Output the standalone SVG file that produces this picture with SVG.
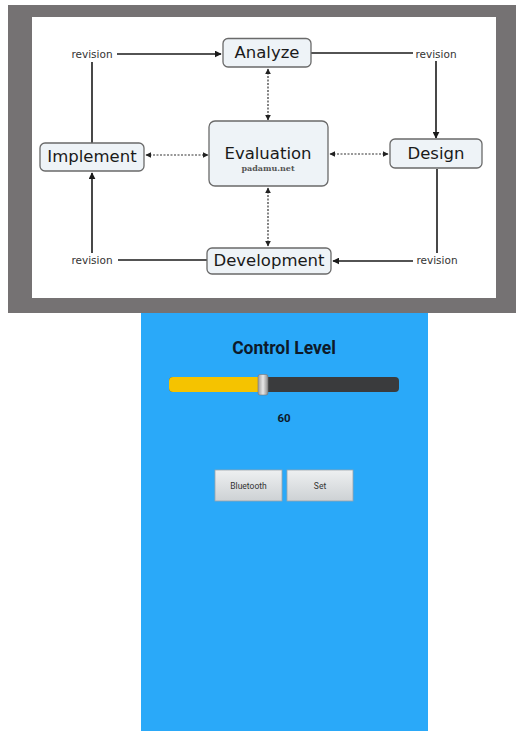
<svg xmlns="http://www.w3.org/2000/svg" width="516" height="731" viewBox="0 0 516 731">
  <style>
    .node rect { fill: #eef3f7; stroke: #6a6a6a; stroke-width: 1.3; }
    .label { font-family: "DejaVu Sans", "Liberation Sans", sans-serif; fill: #1a1a1a; text-anchor: middle; }
    .rev { font-family: "DejaVu Sans", "Liberation Sans", sans-serif; font-size: 10.5px; fill: #333; text-anchor: middle; }
    .solid { stroke: #1a1a1a; stroke-width: 1.6; fill: none; }
    .dash { stroke: #333; stroke-width: 1.2; fill: none; stroke-dasharray: 2 1.5; }
    .btn rect { fill: url(#btnGrad); stroke: #9aa4ab; stroke-width: 0.8; }
    .btn text { font-family: Roboto, "Liberation Sans", sans-serif; font-size: 8.5px; fill: #333; text-anchor: middle; }
  </style>
  <defs>
    <marker id="arrow" viewBox="0 0 10 10" refX="9" refY="5" markerWidth="7" markerHeight="7" orient="auto-start-reverse" markerUnits="userSpaceOnUse">
      <path d="M0,0 L10,5 L0,10 z" fill="#1a1a1a"/>
    </marker>
    <marker id="arrowSmall" viewBox="0 0 10 10" refX="9" refY="5" markerWidth="6" markerHeight="6" orient="auto-start-reverse" markerUnits="userSpaceOnUse">
      <path d="M0,0 L10,5 L0,10 z" fill="#222"/>
    </marker>
    <linearGradient id="btnGrad" x1="0" y1="0" x2="0" y2="1">
      <stop offset="0" stop-color="#eef0f1"/>
      <stop offset="1" stop-color="#cdd1d4"/>
    </linearGradient>
    <linearGradient id="thumbGrad" x1="0" y1="0" x2="1" y2="0">
      <stop offset="0" stop-color="#9a9a9a"/>
      <stop offset="0.5" stop-color="#e8e8e8"/>
      <stop offset="1" stop-color="#8a8a8a"/>
    </linearGradient>
  </defs>

  <!-- page background -->
  <rect x="0" y="0" width="516" height="731" fill="#ffffff"/>

  <!-- photo frame around the cycle chart -->
  <rect x="8" y="5" width="508" height="308" fill="#757273"/>
  <rect x="32" y="17" width="464" height="281" fill="#ffffff"/>

  <!-- connectors -->
  <g id="connectors">
    <!-- solid revision loops -->
    <polyline class="solid" points="92,143 92,62"/>
    <line class="solid" x1="117" y1="54" x2="221" y2="54" marker-end="url(#arrow)"/>
    <line class="solid" x1="311" y1="53" x2="413" y2="53"/>
    <line class="solid" x1="436" y1="61" x2="436" y2="138" marker-end="url(#arrow)"/>
    <line class="solid" x1="437" y1="169" x2="437" y2="253"/>
    <line class="solid" x1="413" y1="261" x2="333" y2="261" marker-end="url(#arrow)"/>
    <line class="solid" x1="207" y1="260" x2="118" y2="260"/>
    <line class="solid" x1="92" y1="253" x2="92" y2="173" marker-end="url(#arrow)"/>
    <!-- dashed evaluation links -->
    <line class="dash" x1="268" y1="69" x2="268" y2="120" marker-start="url(#arrowSmall)" marker-end="url(#arrowSmall)"/>
    <line class="dash" x1="268" y1="188" x2="268" y2="246" marker-start="url(#arrowSmall)" marker-end="url(#arrowSmall)"/>
    <line class="dash" x1="146" y1="155" x2="208" y2="155" marker-start="url(#arrowSmall)" marker-end="url(#arrowSmall)"/>
    <line class="dash" x1="330" y1="154" x2="388" y2="154" marker-start="url(#arrowSmall)" marker-end="url(#arrowSmall)"/>
  </g>

  <!-- revision labels -->
  <text class="rev" x="92" y="58">revision</text>
  <text class="rev" x="436" y="58">revision</text>
  <text class="rev" x="92" y="264">revision</text>
  <text class="rev" x="437" y="264">revision</text>

  <!-- nodes -->
  <g id="analyze" class="node">
    <rect x="223" y="38.5" width="88" height="28.5" rx="5"/>
    <text class="label" x="267" y="58" font-size="16.5">Analyze</text>
  </g>
  <g id="evaluation" class="node">
    <rect x="209" y="121" width="119" height="65" rx="6"/>
    <text class="label" x="268" y="159" font-size="16.5">Evaluation</text>
    <text x="268" y="171" font-family="'DejaVu Serif', 'Liberation Serif', serif" font-weight="bold" font-size="8" fill="#555" text-anchor="middle">padamu.net</text>
  </g>
  <g id="implement" class="node">
    <rect x="40" y="143" width="104" height="28" rx="5"/>
    <text class="label" x="92" y="161.5" font-size="16.5">Implement</text>
  </g>
  <g id="design" class="node">
    <rect x="390" y="139" width="92" height="29" rx="5"/>
    <text class="label" x="436" y="159" font-size="16.5">Design</text>
  </g>
  <g id="development" class="node">
    <rect x="207" y="248" width="124" height="26" rx="5"/>
    <text class="label" x="269" y="266" font-size="16.5">Development</text>
  </g>

  <!-- phone control screen -->
  <g id="control-screen">
    <rect x="141" y="313" width="287" height="418" fill="#2aa9f9"/>
    <text x="284" y="354" font-family="Roboto, 'Liberation Sans', sans-serif" font-weight="bold" font-size="17.5" fill="#0d1a2a" text-anchor="middle">Control Level</text>

    <!-- slider -->
    <rect x="169" y="377" width="230" height="15" rx="4" fill="#3a3b3d"/>
    <rect x="169" y="377" width="93" height="15" rx="4" fill="#f5c300"/>
    <rect x="258" y="374.5" width="10" height="20.5" rx="2" fill="url(#thumbGrad)" stroke="#777" stroke-width="0.6"/>

    <text x="284" y="421.5" font-family="Roboto, 'Liberation Sans', sans-serif" font-weight="bold" font-size="11.5" fill="#0d1a2a" text-anchor="middle">60</text>

    <g id="btn-bluetooth" class="btn">
      <rect x="215" y="470" width="67" height="31"/>
      <text x="248.5" y="489">Bluetooth</text>
    </g>
    <g id="btn-set" class="btn">
      <rect x="287" y="470" width="66" height="31"/>
      <text x="320" y="489">Set</text>
    </g>
  </g>
</svg>
